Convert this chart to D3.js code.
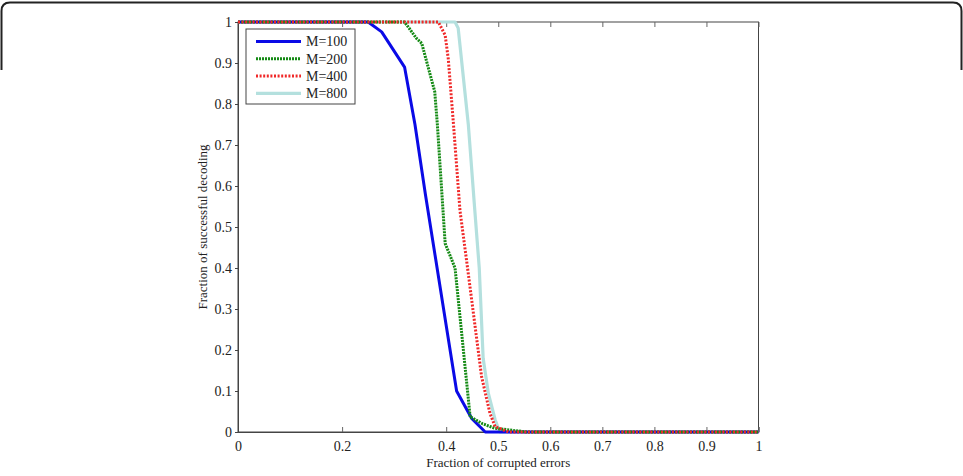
<!DOCTYPE html>
<html>
<head>
<meta charset="utf-8">
<script src="https://cdn.jsdelivr.net/npm/d3@7"></script>
<style>
    body { margin: 0; background: #fff; }
    text { font-family: "Liberation Serif", "Times New Roman", serif; fill: #222; }
</style>
</head>
<body>
<div class="chart-container"></div>
<script>
// data
const xTicks = [0, 0.2, 0.4, 0.5, 0.6, 0.7, 0.8, 0.9, 1]
const yTicks = [0, 0.1, 0.2, 0.3, 0.4, 0.5, 0.6, 0.7, 0.8, 0.9, 1]

const seriesNames = ['M=100', 'M=200', 'M=400', 'M=800']

const m100_x = [0, 0.25, 0.276, 0.32, 0.34, 0.36, 0.38, 0.40, 0.42, 0.449, 0.475, 1]
const m100_y = [1, 1, 0.976, 0.89, 0.75, 0.58, 0.42, 0.26, 0.10, 0.033, 0, 0]

const m200_x = [0, 0.32, 0.343, 0.353, 0.378, 0.383, 0.398, 0.417, 0.446, 0.47, 0.494, 0.555, 1]
const m200_y = [1, 1, 0.96, 0.948, 0.83, 0.75, 0.46, 0.40, 0.037, 0.02, 0.009, 0, 0]

const m400_x = [0, 0.385, 0.398, 0.404, 0.414, 0.4265, 0.44, 0.468, 0.484, 0.494, 0.52, 1]
const m400_y = [1, 1, 0.968, 0.91, 0.75, 0.54, 0.41, 0.135, 0.046, 0.013, 0, 0]

const m800_x = [0, 0.417, 0.423, 0.4425, 0.455, 0.4635, 0.471, 0.481, 0.494, 0.503, 1]
const m800_y = [1, 1, 0.985, 0.75, 0.54, 0.40, 0.18, 0.094, 0.03, 0, 0]

let dims = {
    width: 963,
    height: 476,
    plot: { left: 238, right: 758.5, top: 22, bottom: 432 }
}

const styles = [
    { color: '#0a0ae6', width: 3, dash: null },
    { color: '#148a14', width: 3, dash: '2,1' },
    { color: '#f02828', width: 3, dash: '2,1.6' },
    { color: '#b4e0de', width: 3.2, dash: null }
]

const svg = d3.select('.chart-container')
    .append('svg')
    .attr('width', dims.width)
    .attr('height', dims.height)

// rounded frame of the figure (bottom is cropped)
svg.append('path')
    .attr('d', 'M1.5,70 V11 Q1.5,2.5 10,2.5 H953 Q961.5,2.5 961.5,11 V70')
    .attr('fill', 'none')
    .attr('stroke', '#222')
    .attr('stroke-width', 2)

const xScale = d3.scaleLinear().domain([0, 1]).range([dims.plot.left, dims.plot.right])
const yScale = d3.scaleLinear().domain([0, 1]).range([dims.plot.bottom, dims.plot.top])

const fmt = d => d3.format('~g')(d)

// box
svg.append('rect')
    .attr('x', dims.plot.left)
    .attr('y', dims.plot.top)
    .attr('width', dims.plot.right - dims.plot.left)
    .attr('height', dims.plot.bottom - dims.plot.top)
    .attr('fill', 'none')
    .attr('stroke', '#444')
    .attr('stroke-width', 1)

// X axis (ticks point inward)
const xAxis = svg.append('g')
    .attr('transform', `translate(0,${dims.plot.bottom})`)
    .call(d3.axisBottom(xScale).tickValues(xTicks).tickFormat(fmt).tickSize(-5).tickPadding(9))
xAxis.select('.domain').attr('stroke', '#444')
xAxis.selectAll('line').attr('stroke', '#666')
xAxis.selectAll('text').attr('font-size', '14px').attr('fill', '#222')

const xTop = svg.append('g')
    .attr('transform', `translate(0,${dims.plot.top})`)
    .call(d3.axisTop(xScale).tickValues(xTicks).tickFormat('').tickSize(-5))
xTop.select('.domain').remove()
xTop.selectAll('line').attr('stroke', '#666')

// Y axis
const yAxis = svg.append('g')
    .attr('transform', `translate(${dims.plot.left},0)`)
    .call(d3.axisLeft(yScale).tickValues(yTicks).tickFormat(fmt).tickSize(3).tickPadding(3))
yAxis.select('.domain').attr('stroke', '#444')
yAxis.selectAll('line').attr('stroke', '#444')
yAxis.selectAll('text').attr('font-size', '14px').attr('fill', '#222')

// axis labels
svg.append('text')
    .attr('x', (dims.plot.left + dims.plot.right) / 2)
    .attr('y', 467)
    .attr('font-size', '13px')
    .attr('text-anchor', 'middle')
    .text('Fraction of corrupted errors')

svg.append('text')
    .attr('transform', `translate(207,${(dims.plot.top + dims.plot.bottom) / 2}) rotate(-90)`)
    .attr('font-size', '13px')
    .attr('text-anchor', 'middle')
    .text('Fraction of successful decoding')

// lines
const allSeries = [
    d3.zip(m100_x, m100_y),
    d3.zip(m200_x, m200_y),
    d3.zip(m400_x, m400_y),
    d3.zip(m800_x, m800_y)
]

const line = d3.line()
    .x(d => xScale(d[0]))
    .y(d => yScale(d[1]))

// light M=800 curve sits underneath the others where they overlap
const drawOrder = [3, 0, 1, 2]

svg.append('g')
    .selectAll('path')
    .data(drawOrder)
    .join('path')
    .attr('d', i => line(allSeries[i]))
    .attr('fill', 'none')
    .attr('stroke', i => styles[i].color)
    .attr('stroke-width', i => styles[i].width)
    .attr('stroke-dasharray', i => styles[i].dash)
    .attr('stroke-linejoin', 'round')

// legend
const legend = svg.append('g')
    .attr('transform', 'translate(246,29)')

legend.append('rect')
    .attr('width', 109)
    .attr('height', 75)
    .attr('fill', '#fff')
    .attr('stroke', '#444')
    .attr('stroke-width', 1)

const entries = legend.selectAll('g')
    .data(seriesNames)
    .join('g')
    .attr('transform', (d, i) => `translate(0,${12.5 + i * 17.3})`)

entries.append('line')
    .attr('x1', 10)
    .attr('x2', 55)
    .attr('stroke', (d, i) => styles[i].color)
    .attr('stroke-width', (d, i) => styles[i].width)
    .attr('stroke-dasharray', (d, i) => styles[i].dash)

entries.append('text')
    .attr('x', 60)
    .attr('dy', '0.35em')
    .attr('font-size', '14px')
    .text(d => d)
</script>
</body>
</html>
